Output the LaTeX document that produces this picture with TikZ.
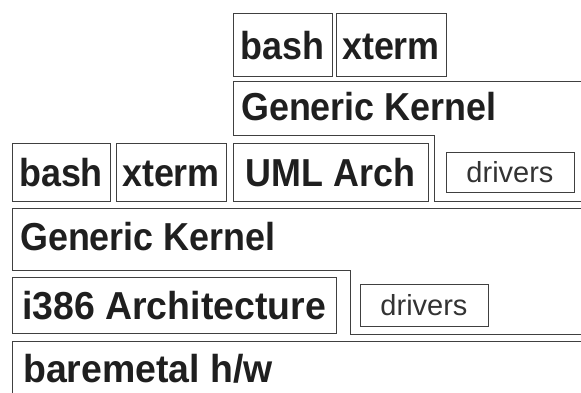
\documentclass[tikz,border=0pt]{standalone}
\usepackage{fontspec}
\setmainfont{Liberation Sans}
\newfontfamily\layerfont{Liberation Sans}[FakeStretch=0.92]
\newfontfamily\widelayerfont{Liberation Sans}[FakeStretch=0.96]
\begin{document}
\begin{tikzpicture}[x=1pt,y=-1pt,
  line/.style={draw=black!75,line width=0.8pt},
  box/.style={line,inner sep=0pt,text=black!88,
    font=\layerfont\bfseries\fontsize{39}{39}\selectfont,
    text height=28pt,text depth=0pt},
  drvbox/.style={line,inner sep=0pt,text=black!80,
    font=\fontsize{29}{29}\selectfont,
    text height=21pt,text depth=0pt},
  layertext/.style={inner sep=0pt,anchor=base west,text=black!88,
    font=\layerfont\bfseries\fontsize{39}{39}\selectfont},
  wide/.style={font=\widelayerfont\bfseries\fontsize{39}{39}\selectfont}]
\useasboundingbox[fill=white] (0,0) rectangle (581,393);

% guest user space
\node[box,minimum width=99,minimum height=63,text height=29.5pt] (bashA) at (282.5,44.5) {bash};
\node[box,minimum width=110,minimum height=63,text height=29.5pt] (xtermA) at (391,44.5) {xterm};

% guest kernel with its driver notch
\draw[line] (581,81) -- (233,81) -- (233,135) -- (434,135) -- (434,201) -- (581,201);
\node[layertext] (gkA) at (241,121) {Generic Kernel};

% host user space and UML arch layer
\node[box,minimum width=98,minimum height=58] (bashB) at (61,172) {bash};
\node[box,minimum width=110,minimum height=58] (xtermB) at (171,172) {xterm};
\node[box,minimum width=195,minimum height=58] (uml) at (330.5,172) {UML Arch};
\node[drvbox,minimum width=128,minimum height=40] (drvA) at (510,172) {drivers};

% host kernel with its driver notch
\draw[line] (581,208) -- (12,208) -- (12,270) -- (350,270) -- (350,334) -- (581,334);
\node[layertext] (gkB) at (20,250) {Generic Kernel};

\node[box,wide,minimum width=324,minimum height=56] (i386) at (174,305) {i386 Architecture};
\node[drvbox,minimum width=128,minimum height=42] (drvB) at (424,305) {drivers};

% hardware
\draw[line] (581,341) -- (12,341) -- (12,395);
\node[layertext,wide] (hw) at (23,382) {baremetal h/w};
\end{tikzpicture}
\end{document}
